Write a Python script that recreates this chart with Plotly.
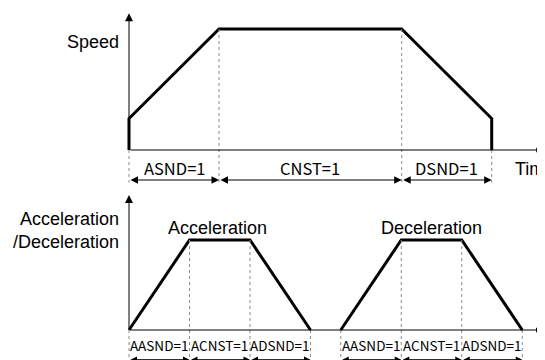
import plotly.graph_objects as go

# speed profile (time in ASND units, speed relative to max)
speed_t = [0, 0, 1, 3.03, 4.03, 4.03]
speed_v = [0, 0.26, 1, 1, 0.26, 0]
speed_bounds = [0, 1, 3.03, 4.03]
speed_labels = ["ASND=1", "CNST=1", "DSND=1"]

# acceleration / deceleration profile
acc_t = [0, 1, 2, 3]
acc_v = [0, 1, 1, 0]
dec_t = [3.5, 4.5, 5.5, 6.5]
dec_v = [0, 1, 1, 0]
acc_labels = ["AASND=1", "ACNST=1", "ADSND=1"]

TXT = "Liberation Sans, Arial, sans-serif"
NARROW = "'Noto Sans CJK JP', sans-serif"
OFF = 8  # page body margin

fig = go.Figure()
fig.add_trace(go.Scatter(x=speed_t, y=speed_v, mode="lines", xaxis="x", yaxis="y",
                         line=dict(color="black", width=3), hoverinfo="skip"))
fig.add_trace(go.Scatter(x=acc_t, y=acc_v, mode="lines", xaxis="x2", yaxis="y2",
                         line=dict(color="black", width=3), hoverinfo="skip"))
fig.add_trace(go.Scatter(x=dec_t, y=dec_v, mode="lines", xaxis="x2", yaxis="y2",
                         line=dict(color="black", width=3), hoverinfo="skip"))

shapes = []
ann = []

def arrow(x0, y0, x1, y1, xr, yr, both=False, size=1.0):
    ann.append(dict(x=x1, y=y1, ax=x0, ay=y0, xref=xr, yref=yr, axref=xr, ayref=yr,
                    text="", showarrow=True, arrowhead=2, arrowsize=size, arrowwidth=1,
                    arrowcolor="black", arrowside="end+start" if both else "end",
                    standoff=0, startstandoff=0))

def dotted(x, y0, y1, xr, yr):
    shapes.append(dict(type="line", x0=x, x1=x, y0=y0, y1=y1, xref=xr, yref=yr,
                       line=dict(color="#8a8a8a", width=1, dash="dot")))

# top diagram
arrow(0, 0, 0, 1.13, "x", "y", size=1.6)
arrow(0, 0, 4.58, 0, "x", "y", size=1.0)
for i, b in enumerate(speed_bounds):
    top = speed_v[2] if 0 < i < len(speed_bounds) - 1 else 0
    dotted(b, top, -0.27, "x", "y")
for i, lab in enumerate(speed_labels):
    a, b = speed_bounds[i], speed_bounds[i + 1]
    arrow(a, -0.248, b, -0.248, "x", "y", both=True, size=1.5)
    ann.append(dict(x=(a + b) / 2, y=-0.15, xref="x", yref="y", text=lab, showarrow=False,
                    font=dict(family=NARROW, size=16.5, color="black")))
ann.append(dict(x=-0.09, y=0.893, xref="x", yref="y", text="Speed", showarrow=False,
                xanchor="right", font=dict(family=TXT, size=18, color="black")))
ann.append(dict(x=4.27, y=-0.16, xref="x", yref="y", text="Time", showarrow=False,
                xanchor="left", font=dict(family=TXT, size=18, color="black")))

# bottom diagram
arrow(0, 0, 0, 1.5, "x2", "y2", size=1.6)
arrow(0, 0, 6.81, 0, "x2", "y2", size=1.0)
for seg_t, seg_v in ((acc_t, acc_v), (dec_t, dec_v)):
    for t, v in zip(seg_t, seg_v):
        dotted(t, v, -0.45, "x2", "y2")
    for i, lab in enumerate(acc_labels):
        a, b = seg_t[i], seg_t[i + 1]
        arrow(a, -0.33, b, -0.33, "x2", "y2", both=True, size=1.3)
        ann.append(dict(x=(a + b) / 2, y=-0.165, xref="x2", yref="y2", text=lab, showarrow=False,
                        font=dict(family=NARROW, size=13.5, color="black")))
ann.append(dict(x=sum(acc_t[1:3]) / 2 - 0.04, y=1.133, xref="x2", yref="y2", text="Acceleration",
                showarrow=False, font=dict(family=TXT, size=18, color="black")))
ann.append(dict(x=sum(dec_t[1:3]) / 2, y=1.133, xref="x2", yref="y2", text="Deceleration",
                showarrow=False, font=dict(family=TXT, size=18, color="black")))
ann.append(dict(x=-0.13, y=1.106, xref="x2", yref="y2", text="Acceleration<br>/Deceleration",
                showarrow=False, xanchor="right", align="right",
                font=dict(family=TXT, size=18, color="black")))

hidden = dict(visible=False, fixedrange=True)
fig.update_layout(
    width=545, height=360,
    margin=dict(l=0, r=0, t=0, b=0),
    paper_bgcolor="white", plot_bgcolor="white",
    showlegend=False,
    xaxis=dict(range=[-(129 - OFF) / 90, (545 - 129 + OFF) / 90], domain=[0, 1], **hidden),
    yaxis=dict(range=[-(360 - 150 + OFF) / 121, (150 - OFF) / 121], domain=[0, 1], **hidden),
    xaxis2=dict(range=[-(129 - OFF) / 60.5, (545 - 129 + OFF) / 60.5], overlaying="x", **hidden),
    yaxis2=dict(range=[-(360 - 330 + OFF) / 90, (330 - OFF) / 90], overlaying="y", **hidden),
    shapes=shapes,
    annotations=ann,
)

fig.write_html("out.html")
